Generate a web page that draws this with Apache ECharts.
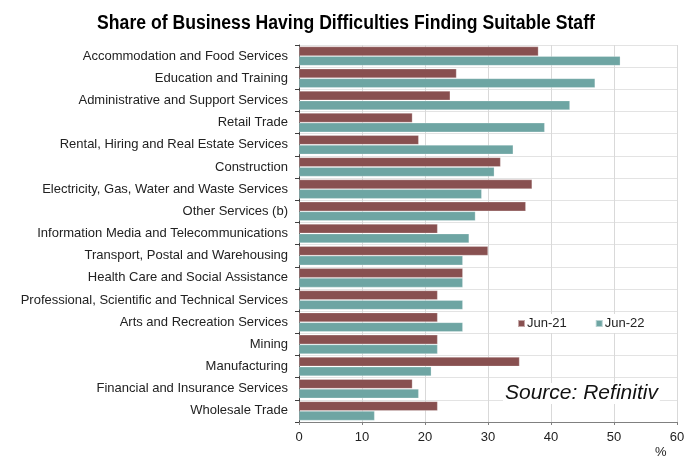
<!DOCTYPE html>
<html>
<head>
<meta charset="utf-8">
<script src="https://cdn.jsdelivr.net/npm/echarts@6/dist/echarts.min.js"></script>
<style>
  html, body { margin: 0; padding: 0; background: #fff; }
  #chart { width: 693px; height: 461px; }
</style>
</head>
<body>
<div id="chart"></div>
<script>
// Industries, listed top to bottom
const industries = [
  'Accommodation and Food Services',
  'Education and Training',
  'Administrative and Support Services',
  'Retail Trade',
  'Rental, Hiring and Real Estate Services',
  'Construction',
  'Electricity, Gas, Water and Waste Services',
  'Other Services (b)',
  'Information Media and Telecommunications',
  'Transport, Postal and Warehousing',
  'Health Care and Social Assistance',
  'Professional, Scientific and Technical Services',
  'Arts and Recreation Services',
  'Mining',
  'Manufacturing',
  'Financial and Insurance Services',
  'Wholesale Trade'
];

// Share of businesses reporting difficulty finding suitable staff (%)
const jun21 = [38, 25, 24, 18, 19, 32, 37, 36, 22, 30, 26, 22, 22, 22, 35, 18, 22];
const jun22 = [51, 47, 43, 39, 34, 31, 29, 28, 27, 26, 26, 26, 26, 22, 21, 19, 12];

const seriesNames = ['Jun-21', 'Jun-22'];
const xTicks = { min: 0, max: 60, interval: 10 };

const chart = echarts.init(document.getElementById('chart'));

const font = 'Liberation Sans, Arial, sans-serif';

chart.setOption({
  animation: false,
  backgroundColor: '#ffffff',
  grid: { left: 299, right: 16, top: 45, bottom: 39, containLabel: false, outerBoundsMode: 'none' },
  legend: {
    data: seriesNames,
    left: 513,
    top: 314,
    padding: [3, 4, 3, 4],
    backgroundColor: '#ffffff',
    itemWidth: 7,
    itemHeight: 7,
    itemGap: 28,
    icon: 'rect',
    z: 10,
    textStyle: { fontFamily: font, fontSize: 13, color: '#222', padding: [0, 0, 0, -3] }
  },
  xAxis: {
    type: 'value',
    min: xTicks.min,
    max: xTicks.max,
    interval: xTicks.interval,
    name: '%',
    nameLocation: 'end',
    nameGap: 0,
    nameTextStyle: { fontFamily: font, fontSize: 13, color: '#222', padding: [24, 0, 0, -22], verticalAlign: 'top' },
    axisLine: { show: true, lineStyle: { color: '#808080', width: 1 } },
    axisTick: { show: true, inside: false, length: 3, lineStyle: { color: '#808080' } },
    axisLabel: { fontFamily: font, fontSize: 13, color: '#222', margin: 9 },
    splitLine: { show: true, lineStyle: { color: '#d9d9d9', width: 1 } }
  },
  yAxis: {
    type: 'category',
    data: industries,
    inverse: true,
    axisLine: { show: true, lineStyle: { color: '#404040', width: 1 } },
    axisTick: { show: true, inside: false, length: 4, lineStyle: { color: '#404040' } },
    axisLabel: { fontFamily: font, fontSize: 13, color: '#222', margin: 11 },
    splitLine: { show: true, lineStyle: { color: '#e3e3e3', width: 1 } }
  },
  series: [
    {
      name: seriesNames[0],
      type: 'bar',
      data: jun21,
      itemStyle: { color: '#885050', borderColor: 'rgba(255,255,255,0.5)', borderWidth: 0.5 },
      barGap: '4%',
      barCategoryGap: '14%'
    },
    {
      name: seriesNames[1],
      type: 'bar',
      data: jun22,
      itemStyle: { color: '#6ea5a3', borderColor: 'rgba(255,255,255,0.5)', borderWidth: 0.5 },
      barGap: '4%',
      barCategoryGap: '14%'
    }
  ],
  graphic: [
    {
      // condensed bold title
      type: 'text',
      x: 346,
      y: 23,
      scaleX: 0.88,
      style: {
        text: 'Share of Business Having Difficulties Finding Suitable Staff',
        font: 'bold 20px Liberation Sans, Arial, sans-serif',
        fill: '#000',
        align: 'center',
        verticalAlign: 'middle'
      }
    },
    {
      type: 'text',
      left: 503,
      top: 383,
      z: 10,
      style: {
        text: 'Source: Refinitiv',
        font: 'italic 21px Liberation Sans, Arial, sans-serif',
        fill: '#111',
        backgroundColor: '#ffffff',
        padding: [0, 2, 0, 2]
      }
    }
  ]
});
</script>
</body>
</html>
